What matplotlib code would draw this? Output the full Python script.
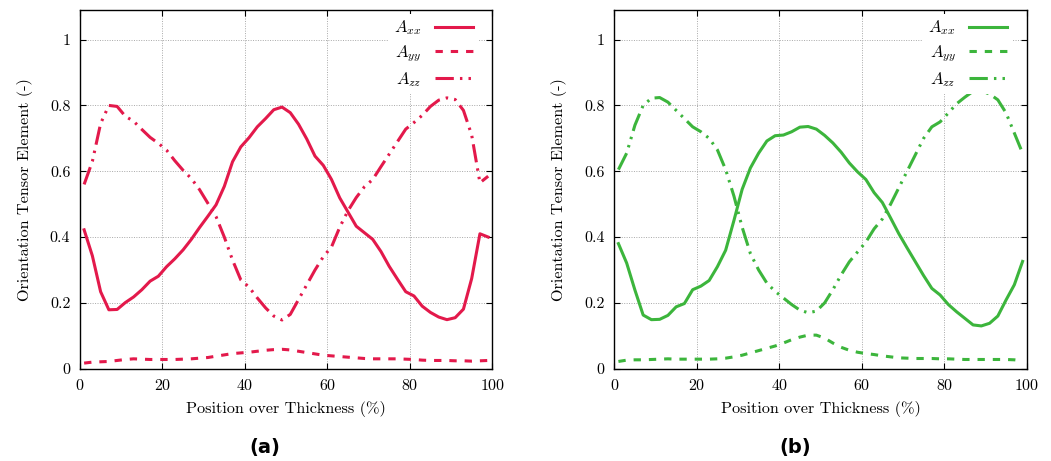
import matplotlib
matplotlib.use("Agg")
import matplotlib.pyplot as plt

plt.rcParams["font.family"] = "cmr10"
plt.rcParams["mathtext.fontset"] = "cm"
plt.rcParams["axes.formatter.use_mathtext"] = True

##positions over thickness (%)
pos = [1, 3, 5, 7, 9, 11, 13, 15, 17, 19, 21, 23, 25, 27, 29, 31, 33, 35, 37, 39,
       41, 43, 45, 47, 49, 51, 53, 55, 57, 59, 61, 63, 65, 67, 69, 71, 73, 75, 77, 79,
       81, 83, 85, 87, 89, 91, 93, 95, 97, 99]

##panel (a)
a_xx = [0.422, 0.343, 0.234, 0.179, 0.180, 0.201, 0.218, 0.240, 0.266, 0.281,
        0.310, 0.334, 0.361, 0.393, 0.429, 0.463, 0.498, 0.554, 0.629, 0.674,
        0.702, 0.735, 0.760, 0.787, 0.795, 0.778, 0.743, 0.698, 0.646, 0.618,
        0.575, 0.519, 0.476, 0.433, 0.413, 0.393, 0.356, 0.311, 0.272, 0.234,
        0.221, 0.190, 0.171, 0.157, 0.149, 0.155, 0.181, 0.274, 0.410, 0.400]
a_yy = [0.017, 0.020, 0.021, 0.022, 0.025, 0.028, 0.030, 0.029, 0.028, 0.028,
        0.028, 0.028, 0.029, 0.030, 0.032, 0.034, 0.038, 0.042, 0.046, 0.048,
        0.050, 0.053, 0.056, 0.058, 0.059, 0.057, 0.053, 0.049, 0.045, 0.041,
        0.039, 0.037, 0.035, 0.033, 0.031, 0.030, 0.030, 0.030, 0.030, 0.029,
        0.028, 0.026, 0.025, 0.025, 0.025, 0.024, 0.024, 0.023, 0.024, 0.025]
a_zz = [0.560, 0.630, 0.745, 0.800, 0.797, 0.767, 0.752, 0.727, 0.703, 0.685,
        0.664, 0.632, 0.603, 0.578, 0.544, 0.503, 0.462, 0.400, 0.330, 0.270,
        0.248, 0.215, 0.185, 0.160, 0.148, 0.165, 0.210, 0.255, 0.300, 0.340,
        0.370, 0.430, 0.480, 0.520, 0.553, 0.575, 0.614, 0.652, 0.690, 0.728,
        0.748, 0.770, 0.797, 0.816, 0.823, 0.818, 0.785, 0.710, 0.565, 0.585]

##panel (b)
b_xx = [0.380, 0.321, 0.239, 0.163, 0.149, 0.150, 0.162, 0.188, 0.198, 0.240,
        0.251, 0.268, 0.310, 0.360, 0.450, 0.545, 0.610, 0.655, 0.692, 0.708,
        0.710, 0.720, 0.734, 0.736, 0.728, 0.709, 0.686, 0.658, 0.625, 0.598,
        0.575, 0.535, 0.505, 0.458, 0.410, 0.367, 0.325, 0.283, 0.244, 0.224,
        0.195, 0.173, 0.153, 0.133, 0.130, 0.138, 0.160, 0.209, 0.255, 0.326]
b_yy = [0.022, 0.026, 0.027, 0.027, 0.028, 0.029, 0.030, 0.029, 0.029, 0.029,
        0.029, 0.029, 0.030, 0.032, 0.036, 0.041, 0.048, 0.055, 0.062, 0.069,
        0.078, 0.088, 0.096, 0.102, 0.102, 0.093, 0.078, 0.065, 0.056, 0.050,
        0.046, 0.043, 0.039, 0.036, 0.033, 0.032, 0.031, 0.031, 0.031, 0.030,
        0.030, 0.029, 0.028, 0.028, 0.028, 0.028, 0.028, 0.028, 0.027, 0.024]
b_zz = [0.605, 0.655, 0.740, 0.800, 0.822, 0.824, 0.810, 0.785, 0.760, 0.735,
        0.720, 0.700, 0.665, 0.605, 0.525, 0.430, 0.350, 0.300, 0.260, 0.235,
        0.215, 0.195, 0.178, 0.170, 0.175, 0.200, 0.240, 0.285, 0.325, 0.355,
        0.385, 0.425, 0.455, 0.500, 0.550, 0.600, 0.650, 0.700, 0.735, 0.750,
        0.777, 0.805, 0.825, 0.843, 0.843, 0.835, 0.817, 0.777, 0.716, 0.655]

x_ticks = [0, 20, 40, 60, 80, 100]
y_ticks = [0, 0.2, 0.4, 0.6, 0.8, 1]
y_tick_labels = ["0", "0.2", "0.4", "0.6", "0.8", "1"]
series_labels = [r"$A_{xx}$", r"$A_{yy}$", r"$A_{zz}$"]

W, H = 1051, 461
fig = plt.figure(figsize=(W / 100, H / 100), dpi=100)

def make_panel(rect, yxx, yyy, yzz, color, tag, tag_x):
    ax = fig.add_axes(rect)
    lw = 2.2
    ax.plot(pos, yxx, color=color, lw=lw, label=series_labels[0])
    ax.plot(pos, yyy, color=color, lw=lw, ls=(0, (2.4, 2.6)), label=series_labels[1])
    ax.plot(pos, yzz, color=color, lw=lw, ls=(0, (6, 2, 0.8, 2, 0.8, 2)),
            label=series_labels[2])
    ax.set_xlim(0, 100)
    ax.set_ylim(0, 1.09)
    ax.set_xticks(x_ticks)
    ax.set_yticks(y_ticks)
    ax.set_yticklabels(y_tick_labels)
    ax.grid(True, color="#a8a8a8", ls=(0, (1, 1.5)), lw=0.7)
    ax.set_axisbelow(True)
    ax.tick_params(direction="in", top=True, right=True, length=4, width=0.8,
                   labelsize=11.5, pad=7)
    for s in ax.spines.values():
        s.set_linewidth(1.0)
    ax.set_xlabel("Position over Thickness (%)", fontsize=11.7)
    ax.set_ylabel("Orientation Tensor Element (-)", fontsize=11.7)
    ax.xaxis.set_label_coords(0.5, -0.09)
    ax.yaxis.set_label_coords(-0.115, 0.5)
    ax.legend(loc="upper right", bbox_to_anchor=(0.965, 0.99), markerfirst=False,
              frameon=True, fancybox=False, framealpha=1, edgecolor="none",
              fontsize=12, handlelength=2.3, handletextpad=0.8,
              labelspacing=0.35, borderpad=0.3, borderaxespad=0)
    fig.text(tag_x / W, 1 - 447 / H, tag, ha="center", va="center",
             fontsize=14, fontweight="bold", family="DejaVu Sans")
    return ax

make_panel([80 / W, 92.3 / H, 412.3 / W, 358.7 / H], a_xx, a_yy, a_zz,
           "#e3194b", "(a)", 265)
make_panel([614.3 / W, 92.3 / H, 412.4 / W, 358.7 / H], b_xx, b_yy, b_zz,
           "#3cb53c", "(b)", 795)

fig.savefig("out.png", dpi=100)
